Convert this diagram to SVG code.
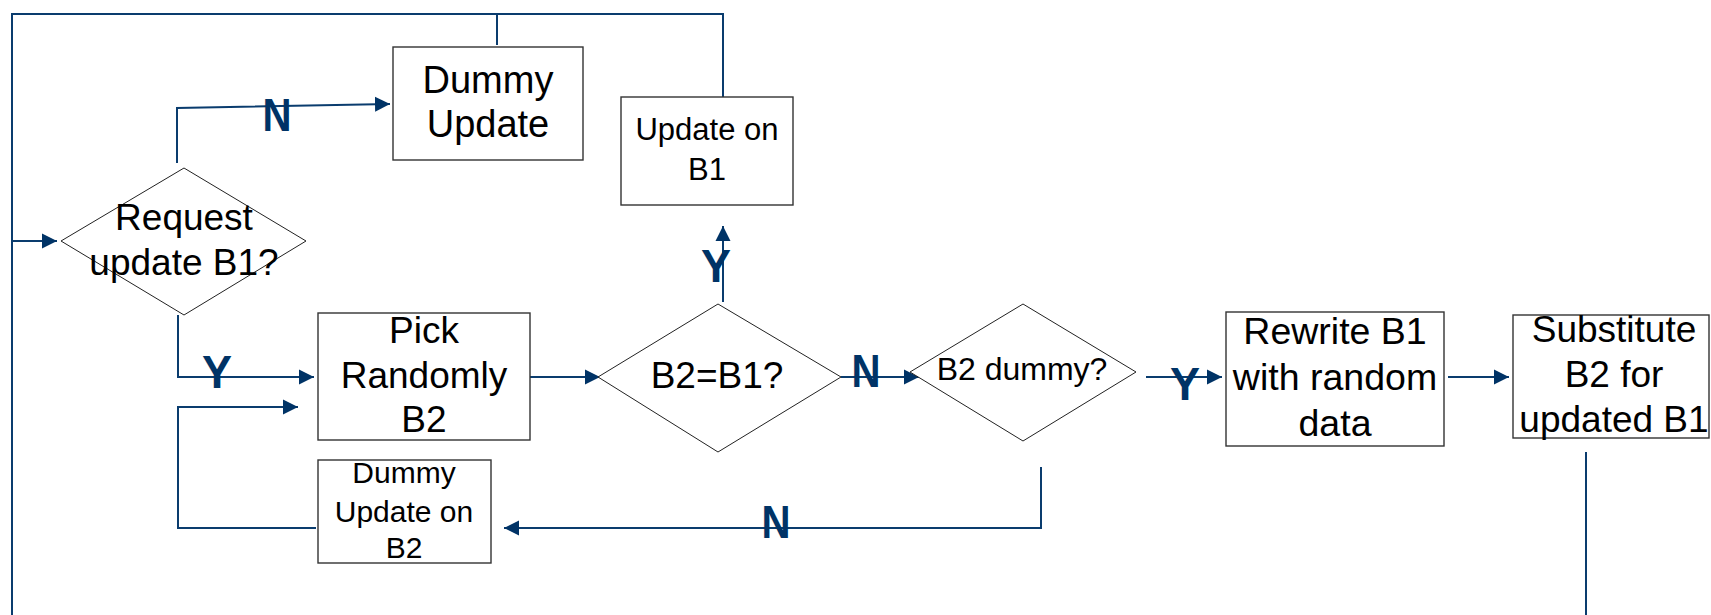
<svg xmlns="http://www.w3.org/2000/svg" width="1711" height="615" viewBox="0 0 1711 615">
<style>
.box{fill:#fff;stroke:#333;stroke-width:1.4}
.dia{fill:#fff;stroke:#222;stroke-width:1}
.t{font-family:"Liberation Sans",Arial,sans-serif;fill:#000;text-anchor:middle}
.c{fill:none;stroke:#0a3c6e;stroke-width:2}
.a{marker-end:url(#arr)}
.lab{font-family:"Liberation Sans",Arial,sans-serif;font-weight:bold;fill:#003366;text-anchor:middle;font-size:46px}
</style>
<defs>
<marker id="arr" markerUnits="userSpaceOnUse" markerWidth="16" markerHeight="16" viewBox="0 0 16 16" refX="15" refY="8" orient="auto">
<path d="M0,0.5 L15,8 L0,15.5 Z" fill="#003366"/>
</marker>
</defs>
<rect width="1711" height="615" fill="#fff"/>
<g id="connectors">
<path class="c" d="M1586,452 V630 H12 V14 H723 V97"/>
<path class="c" d="M497,45 V14"/>
<path class="c a" d="M12,241 H57"/>
<path class="c a" d="M177,163 V108 L390,104"/>
<path class="c a" d="M178,315 V377 H314"/>
<path class="c a" d="M530,377 H600"/>
<path class="c a" d="M723,302 V226"/>
<path class="c a" d="M841,377 H919"/>
<path class="c a" d="M1146,377 H1222"/>
<path class="c a" d="M1448,377 H1509"/>
<path class="c a" d="M1041,467 V528 H504"/>
<path class="c a" d="M316,528 H178 V407 H298"/>
<text class="lab" x="277" y="131" textLength="29" lengthAdjust="spacingAndGlyphs">N</text>
<text class="lab" x="217" y="388" textLength="30" lengthAdjust="spacingAndGlyphs">Y</text>
<text class="lab" x="716" y="282" textLength="30" lengthAdjust="spacingAndGlyphs">Y</text>
<text class="lab" x="866" y="387" textLength="29" lengthAdjust="spacingAndGlyphs">N</text>
<text class="lab" x="1185" y="400" textLength="30" lengthAdjust="spacingAndGlyphs">Y</text>
<text class="lab" x="776" y="538" textLength="29" lengthAdjust="spacingAndGlyphs">N</text>
</g>
<g id="dummy-update">
<rect class="box" x="393" y="47" width="190" height="113"/>
<text class="t" font-size="38" x="488" y="93">Dummy</text>
<text class="t" font-size="38" x="488" y="137">Update</text>
</g>
<g id="update-on-b1">
<rect class="box" x="621" y="97" width="172" height="108"/>
<text class="t" font-size="31" x="707" y="140">Update on</text>
<text class="t" font-size="31" x="707" y="180">B1</text>
</g>
<g id="request-update">
<polygon class="dia" points="184,168 306,241 184,315 61,241"/>
<text class="t" font-size="37" x="184" y="230">Request</text>
<text class="t" font-size="37" x="184" y="275">update B1?</text>
</g>
<g id="pick-randomly">
<rect class="box" x="318" y="313" width="212" height="127"/>
<text class="t" font-size="37" x="424" y="343">Pick</text>
<text class="t" font-size="37" x="424" y="388">Randomly</text>
<text class="t" font-size="37" x="424" y="432">B2</text>
</g>
<g id="dummy-update-b2">
<rect class="box" x="318" y="460" width="173" height="103"/>
<text class="t" font-size="30" x="404" y="483">Dummy</text>
<text class="t" font-size="30" x="404" y="522">Update on</text>
<text class="t" font-size="30" x="404" y="558">B2</text>
</g>
<g id="b2-eq-b1">
<polygon class="dia" points="718,304 841,377 718,452 598,377"/>
<text class="t" font-size="37" x="717" y="388">B2=B1?</text>
</g>
<g id="b2-dummy">
<polygon class="dia" points="1023,304 1136,372 1023,441 910,372"/>
<text class="t" font-size="32" x="1022" y="380">B2 dummy?</text>
</g>
<g id="rewrite-b1">
<rect class="box" x="1226" y="312" width="218" height="134"/>
<text class="t" font-size="37.5" x="1335" y="344">Rewrite B1</text>
<text class="t" font-size="37.5" x="1335" y="390">with random</text>
<text class="t" font-size="37.5" x="1335" y="436">data</text>
</g>
<g id="substitute-b2">
<rect class="box" x="1513" y="315" width="196" height="123"/>
<text class="t" font-size="37" x="1614" y="342">Substitute</text>
<text class="t" font-size="37" x="1614" y="387">B2 for</text>
<text class="t" font-size="37" x="1614" y="432">updated B1</text>
</g>
</svg>
